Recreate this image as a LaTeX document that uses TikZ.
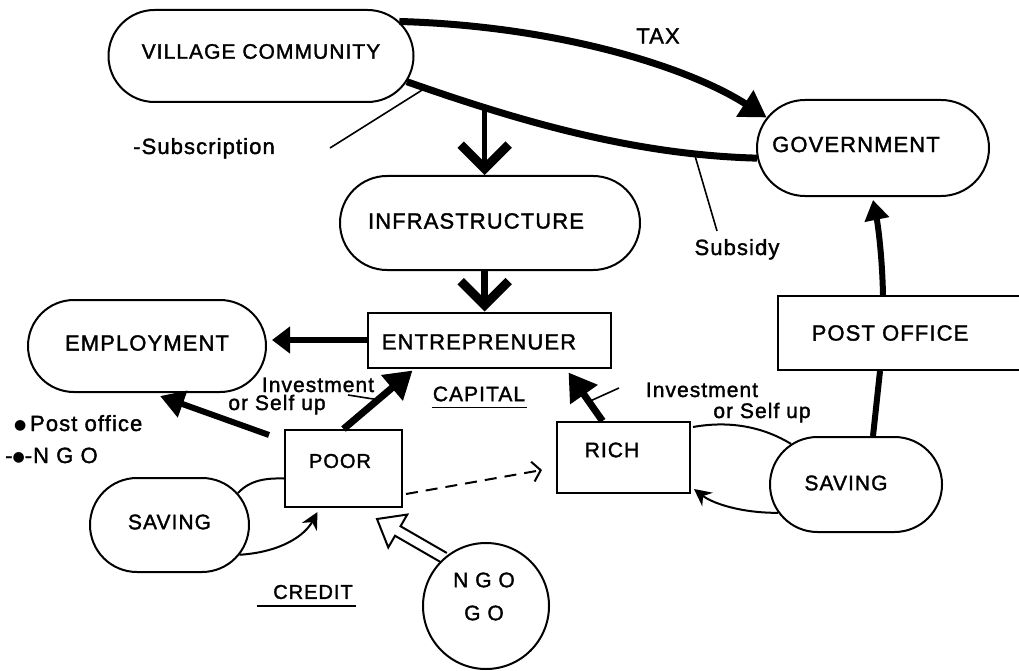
\documentclass[tikz,border=0pt]{standalone}
\usepackage{fontspec}
\setmainfont{Liberation Sans}[LetterSpace=5, FakeBold=1.6]
\newfontfamily\dotfont{DejaVu Sans}
\usetikzlibrary{arrows.meta,shapes.misc,calc}

\newcommand{\bigdot}{{\dotfont\fontsize{14}{14}\selectfont\raisebox{1.5pt}{●}}}

\begin{document}
\begin{tikzpicture}[x=1pt,y=-1pt,
  stadium/.style={rounded rectangle, draw, line width=2pt, inner sep=0pt},
  boxnode/.style={rectangle, draw, line width=2pt, inner sep=0pt},
  big/.style={inner sep=0pt, font=\fontsize{22}{26}\selectfont},
  mid/.style={inner sep=0pt, font=\fontsize{21}{25}\selectfont},
  heavy/.style={line width=7pt},
  medium/.style={line width=6pt},
  thinline/.style={line width=1.6pt},
  curveline/.style={line width=2pt},
  bigtri/.style={-{Triangle[length=27pt,width=32pt]}},
  barb/.style={-{Straight Barb[length=24pt,width=48pt,line width=9pt]}},
  smallstealth/.style={-{Stealth[length=17pt,width=17pt]}}]

\useasboundingbox[fill=white] (0,0) rectangle (1019,671);

% ---------- boxes ----------
\node[stadium, minimum width=305pt, minimum height=92pt] (vc)    at (261,56)    {};
\node[stadium, minimum width=232pt, minimum height=96pt] (gov)   at (873,148)   {};
\node[stadium, minimum width=300pt, minimum height=94pt] (infra) at (490,223)   {};
\node[stadium, minimum width=238pt, minimum height=92pt] (emp)   at (147,346)   {};
\node[boxnode, minimum width=243pt, minimum height=55pt] (ent)   at (489,340)   {};
\node[boxnode, minimum width=252pt, minimum height=74pt] (post)  at (904,333)   {};
\node[boxnode, minimum width=117pt, minimum height=77pt] (poor)  at (343.5,468.5) {};
\node[boxnode, minimum width=133pt, minimum height=71pt] (rich)  at (623.5,457.5) {};
\node[stadium, minimum width=159pt, minimum height=94pt] (savL)  at (169.5,525) {};
\node[stadium, minimum width=172pt, minimum height=95pt] (savR)  at (856,484.5) {};
\node[circle, draw, line width=2pt, minimum size=126pt, inner sep=0pt] (ngo) at (486,606) {};

% ---------- box texts ----------
\node[big, font=\fontsize{21}{25}\selectfont] (vcT) at (261,51.5) {VILLAGE COMMUNITY};
\node[big] (govT)   at (856,144.5) {GOVERNMENT};
\node[big] (infraT) at (476,221)   {INFRASTRUCTURE};
\node[big] (empT)   at (147,343)   {EMPLOYMENT};
\node[big] (entT)   at (479,342)   {ENTREPRENUER};
\node[big] (postT)  at (890,333)   {POST OFFICE};
\node[big, font=\fontsize{20}{24}\selectfont] (poorT) at (340,461) {POOR};
\node[big, font=\fontsize{21}{25}\selectfont] (richT) at (612,450) {RICH};
\node[big, font=\fontsize{21}{25}\selectfont] (savLT) at (169.5,522) {SAVING};
\node[big, font=\fontsize{21}{25}\selectfont] (savRT) at (846,483) {SAVING};
\node[big, font=\fontsize{21}{25}\selectfont] (ngoT1) at (484,580) {N G O};
\node[big, font=\fontsize{21}{25}\selectfont] (ngoT2) at (484,613) {G O};

% ---------- free labels ----------
\node[big] (taxT) at (658,36) {TAX};
\node[big, anchor=base] (subscT) at (204,154) {-Subscription};
\node[big, anchor=base] (subsdT) at (737,255) {Subsidy};
\node[mid, anchor=base] (invL1) at (318,392) {Investment};
\node[mid, anchor=base] (invL2) at (277,410) {or Self up};
\node[mid, anchor=base] (invR1) at (702,397) {Investment};
\node[mid, anchor=base] (invR2) at (762,418) {or Self up};
\node[big, font=\fontsize{21}{25}\selectfont] (capT) at (479,394) {CAPITAL};
\node[big, font=\fontsize{20}{24}\selectfont] (credT) at (313,592) {CREDIT};
\node[big, anchor=base west] (pofT) at (14,431) {\bigdot\,Post office};
\node[big, anchor=base west] (ngoL) at (5,463) {-\bigdot-N G O};

\draw[thinline] ($(capT.south west)+(-1,6)$) -- ($(capT.south east)+(2,6)$);
\draw[thinline] ($(credT.south west)+(-16,7)$) -- ($(credT.south east)+(3,7)$);

% ---------- tax and subsidy ----------
\draw[heavy, -{Triangle[length=26pt,width=30pt]}]
  (vc.14) .. controls (560,26) and (690,68) .. (gov.164);
\draw[heavy]
  (vc.-10) .. controls (530,125) and (640,155) .. (gov.185)
  coordinate[pos=0.05] (subPt)
  coordinate[pos=0.215] (infraFrom)
  coordinate[pos=0.82] (subdPt);

\coordinate (subscEnd) at (330,148);
\coordinate (subsdEnd) at (717,231);
\draw[thinline] (subscEnd) -- (subPt);
\draw[thinline] (subdPt) -- (subsdEnd);

% ---------- central column ----------
\draw[line width=5pt, barb] (infraFrom) -- (infraFrom |- infra.north);
\draw[line width=7pt, barb] (infraFrom |- infra.south) -- (infraFrom |- ent.north);
\draw[medium, -{Triangle[length=18pt,width=26pt]}, shorten >=5pt]
  (ent.west) -- (ent.west -| emp.east);

% ---------- poor ----------
\draw[medium, -{Triangle[length=24pt,width=27pt]}]
  ($(poor.north west)+(-15,6)$) -- ($(emp.south)+(13,3)$);
\draw[heavy, bigtri]
  (poor.north) -- ($(ent.south west)+(46,2)$) coordinate[pos=0.5] (poorInv);
\coordinate (invLEnd) at (348,395);
\draw[thinline] (invLEnd) -- (poorInv);

\draw[curveline, dash pattern=on 12pt off 8pt, -{Straight Barb[length=8pt,width=20pt]}]
  ($(poor.south east)+(3,-14)$) -- ($(rich.west)+(-14,12.5)$);

\draw[curveline] (savL.25) .. controls (250,480) and (266,478) .. ($(poor.west)+(0,10)$);
\draw[curveline, smallstealth]
  (savL.-23) .. controls (282,552) and (305,535) .. ($(poor.south)+(-26,4)$);

% ---------- rich ----------
\draw[heavy, bigtri]
  ($(rich.north)+(-21,0)$) -- ($(ent.south east)+(-43,4)$) coordinate[pos=0.4] (richInv);
\coordinate (invREnd) at (619,388);
\draw[thinline] (invREnd) -- (richInv);

\draw[curveline] (savR.148) .. controls (765,428) and (732,420) .. ($(rich.north east)+(2,6)$);
\draw[curveline, smallstealth]
  (savR.200) .. controls (740,513) and (712,503) .. ($(rich.south east)+(3,-5)$);

% ---------- post office ----------
\draw[medium] ($(savR.north)+(17,0)$) -- ($(post.south)+(-24,0)$);
\draw[medium, -{Triangle[length=20pt,width=24pt]}]
  ($(post.north)+(-21,0)$) .. controls (882,250) and (877,220) .. ($(gov.south)+(0,3)$);

% ---------- hollow credit arrow ----------
\coordinate (cT) at ($(poor.south)+(33.5,11)$);
\coordinate (cE) at (ngo.131);
\coordinate (cB) at ($(cT)!24pt!(cE)$);
\draw[curveline, line join=miter]
  ($(cE)!5.5pt!-90:(cT)$) -- ($(cB)!5.5pt!90:(cE)$) -- ($(cB)!19pt!90:(cE)$) -- (cT)
  -- ($(cB)!19pt!-90:(cE)$) -- ($(cB)!5.5pt!-90:(cE)$) -- ($(cE)!5.5pt!90:(cT)$);

\end{tikzpicture}
\end{document}
